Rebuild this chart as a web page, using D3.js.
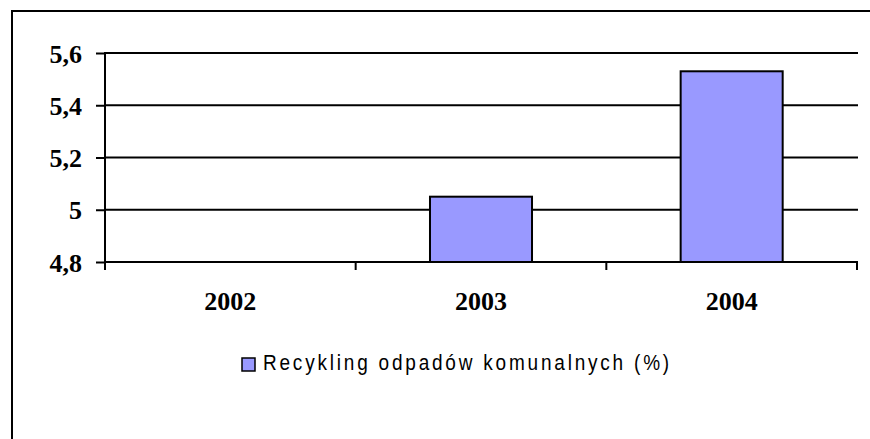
<!DOCTYPE html>
<html lang="pl">
<head>
<meta charset="UTF-8">
<title>Recykling odpadów komunalnych</title>
<script src="https://d3js.org/d3.v7.min.js"></script>
<style>
  body { margin: 0; background: #fff; }
  svg { display: block; }
  .tick-label { font-family: "Liberation Serif", "Times New Roman", serif; font-weight: bold; font-size: 26px; fill: #000; }
  .legend-text { font-family: "Liberation Sans", Arial, sans-serif; font-size: 19px; letter-spacing: 2.8px; fill: #000; }
</style>
</head>
<body>
<svg id="chart" width="870" height="439"></svg>
<script>
// data
const years = ["2002", "2003", "2004"];
const recyclingValues = [4.7, 5.05, 5.53];
const yTicks = [4.8, 5.0, 5.2, 5.4, 5.6];
const seriesName = "Recykling odpadów komunalnych (%)";

const svg = d3.select("#chart");
const W = 870, H = 439;
const plot = { left: 105, right: 857, top: 53, bottom: 262 };

// outer frame (runs off the right and bottom edges)
svg.append("path")
  .attr("d", `M12,${H + 5} L12,11 L${W + 5},11`)
  .attr("fill", "none")
  .attr("stroke", "#000")
  .attr("stroke-width", 2);

const x = d3.scaleBand()
  .domain(years)
  .range([plot.left, plot.right])
  .paddingInner(0.593)
  .paddingOuter(0.2965);

const y = d3.scaleLinear()
  .domain([4.8, 5.6])
  .range([plot.bottom, plot.top]);

const fmt = d => d3.format(".1f")(d).replace(".", ",").replace(",0", "");

// gridlines
svg.append("g")
  .selectAll("line")
  .data(yTicks)
  .join("line")
  .attr("x1", plot.left)
  .attr("x2", plot.right + 1)
  .attr("y1", d => y(d))
  .attr("y2", d => y(d))
  .attr("stroke", "#000")
  .attr("stroke-width", 2);

// y axis
const yAxis = svg.append("g")
  .attr("transform", `translate(${plot.left},0)`)
  .call(d3.axisLeft(y).tickValues(yTicks).tickSize(9).tickPadding(14).tickFormat(fmt));
yAxis.select(".domain").remove();
yAxis.selectAll(".tick line").attr("stroke", "#000").attr("stroke-width", 2);
yAxis.selectAll(".tick text").attr("class", "tick-label").attr("dy", "0.35em").attr("font-size", null).attr("font-family", null);

// y axis line (extends down to tick length of x axis)
svg.append("line")
  .attr("x1", plot.left).attr("x2", plot.left)
  .attr("y1", plot.top - 1).attr("y2", plot.bottom + 8)
  .attr("stroke", "#000").attr("stroke-width", 2);

// x axis category boundary ticks
const boundaries = years.map(d => x(d) - x.step() * x.paddingOuter()).concat([plot.right]);
svg.append("g")
  .selectAll("line")
  .data(boundaries.slice(1))
  .join("line")
  .attr("x1", d => d).attr("x2", d => d)
  .attr("y1", plot.bottom).attr("y2", plot.bottom + 8)
  .attr("stroke", "#000").attr("stroke-width", 2);

// category labels
svg.append("g")
  .selectAll("text")
  .data(years)
  .join("text")
  .attr("class", "tick-label")
  .attr("x", d => x(d) + x.bandwidth() / 2)
  .attr("y", 310)
  .attr("text-anchor", "middle")
  .text(d => d);

// bars (values below the axis minimum are not drawn)
const barData = years.map((yr, i) => ({ year: yr, value: recyclingValues[i] }))
  .filter(d => d.value > y.domain()[0]);
svg.append("g")
  .selectAll("rect")
  .data(barData)
  .join("rect")
  .attr("x", d => x(d.year))
  .attr("y", d => y(d.value))
  .attr("width", x.bandwidth())
  .attr("height", d => y(y.domain()[0]) - y(d.value))
  .attr("fill", "#9999ff")
  .attr("stroke", "#000")
  .attr("stroke-width", 2);

// legend
const legend = svg.append("g").attr("transform", "translate(242,358)");
legend.append("rect")
  .attr("width", 13).attr("height", 13)
  .attr("fill", "#9999ff").attr("stroke", "#000").attr("stroke-width", 1.5);
legend.append("text")
  .attr("class", "legend-text")
  .attr("transform", "translate(21,12) scale(1,1.2)")
  .text(seriesName);
</script>
</body>
</html>
